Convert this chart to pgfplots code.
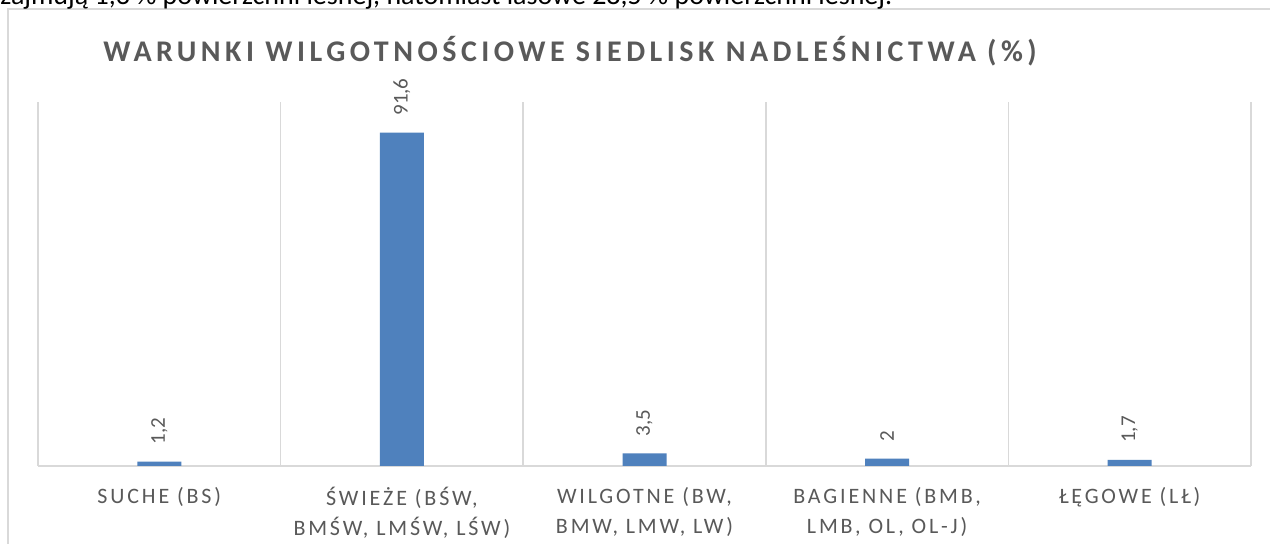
\documentclass[border=0pt]{standalone}
\usepackage{fontspec}
\setmainfont{Carlito}
\newfontfamily\tickfont[LetterSpace=13]{Carlito}
\newfontfamily\titlefont[LetterSpace=15]{Carlito}
\usepackage{pgfplots}
\pgfplotsset{compat=1.18}
\definecolor{barblue}{HTML}{4F81BD}
\definecolor{txtgray}{HTML}{595959}
\definecolor{gridgray}{HTML}{D9D9D9}

\begin{document}
\begin{tikzpicture}
\useasboundingbox (0,0) rectangle (635pt,272pt);
\begin{scope}
  \clip (0,0) rectangle (635pt,272pt);
  \fill[white] (0,0) rectangle (635pt,272pt);
  \draw[gridgray, line width=0.75pt] (4pt,-5pt) -- (4pt,267.5pt) -- (640pt,267.5pt);
  \node[anchor=base west, inner sep=0pt, font=\fontsize{14}{16}\selectfont]
    at (0pt,269.8pt) {zajmują 1,3 \% powierzchni leśnej, natomiast lasowe 28,5 \% powierzchni leśnej.};
\end{scope}

\node[anchor=base, inner sep=0pt, text=txtgray,
      font=\titlefont\bfseries\fontsize{15}{18}\selectfont]
  at (285pt,241.2pt) {WARUNKI WILGOTNOŚCIOWE SIEDLISK NADLEŚNICTWA (\%)};

\begin{axis}[
  at={(19pt,39pt)}, anchor=south west,
  scale only axis, width=606.5pt, height=182pt,
  ybar, bar width=22pt,
  xmin=-0.5, xmax=4.5, ymin=0, ymax=100,
  axis x line*=bottom, axis y line=none,
  x axis line style={gridgray, line width=0.75pt, -},
  xtick={0,1,2,3,4},
  minor xtick={-0.5,0.5,1.5,2.5,3.5,4.5},
  xminorgrids=true,
  minor grid style={gridgray, line width=0.75pt},
  major tick length=0pt, minor tick length=0pt,
  ytick=\empty,
  xticklabels={{SUCHE (BS)},
               {ŚWIEŻE (BŚW,\\BMŚW, LMŚW, LŚW)},
               {WILGOTNE (BW,\\BMW, LMW, LW)},
               {BAGIENNE (BMB,\\LMB, OL, OL-J)},
               {ŁĘGOWE (LŁ)}},
  xticklabel style={font=\tickfont\fontsize{11}{15}\selectfont, text=txtgray,
                    align=center, anchor=north, yshift=-7pt},
  nodes near coords, point meta=y,
  every node near coord/.append style={font=\fontsize{10.5}{12}\selectfont,
     text=txtgray, rotate=90, anchor=west, inner sep=0pt, outer sep=8.5pt},
  /pgf/number format/use comma,
  /pgf/number format/assume math mode=true,
  clip=false,
]
\addplot[fill=barblue, draw=none] coordinates {
  (0,1.2) (1,91.6) (2,3.5) (3,2) (4,1.7)
};
\end{axis}
\end{tikzpicture}
\end{document}
